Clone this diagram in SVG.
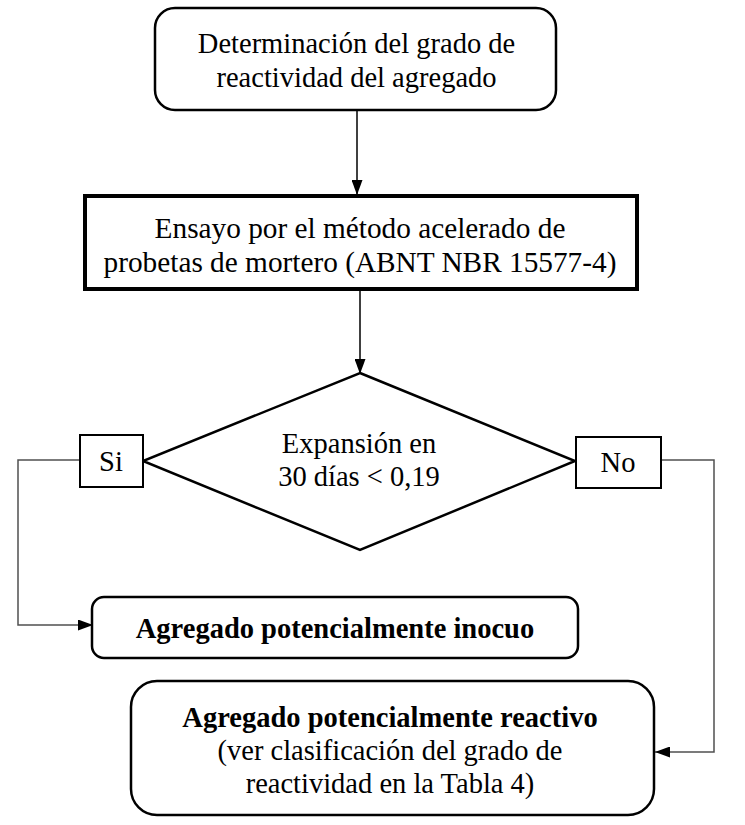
<svg xmlns="http://www.w3.org/2000/svg" width="745" height="825" viewBox="0 0 745 825">
<style>
text{font-family:'Liberation Serif','Times New Roman',serif;font-size:28.5px;fill:#000;text-anchor:middle}
.b{font-weight:bold}
.m{font-size:29.3px}
.box{fill:#fff;stroke:#000;stroke-width:2.5}
.thick{fill:#fff;stroke:#000;stroke-width:4}
.lbl{fill:#fff;stroke:#000;stroke-width:2}
.c{fill:none;stroke:#000;stroke-width:1.5}
.g{fill:none;stroke:#505050;stroke-width:1.5}
</style>
<defs>
<marker id="ah" markerWidth="15" markerHeight="11" refX="15" refY="5.5" orient="auto" markerUnits="userSpaceOnUse" viewBox="0 0 15 11">
<path d="M0,0 L15,5.5 L0,11 z" fill="#000"/>
</marker>
</defs>
<g id="connectors">
<line class="c" x1="357" y1="110" x2="357" y2="195" marker-end="url(#ah)"/>
<line class="c" x1="360" y1="290" x2="360" y2="374" marker-end="url(#ah)"/>
<polyline class="g" points="80,460 18,460 18,625 93,625" marker-end="url(#ah)"/>
<polyline class="g" points="661,460 714,460 714,752 655,752" marker-end="url(#ah)"/>
</g>
<g id="n1">
<rect class="box" x="155" y="8" width="401" height="102" rx="20"/>
<text x="356.5" y="53">Determinación del grado de</text>
<text x="356.5" y="87">reactividad del agregado</text>
</g>
<g id="n2">
<rect class="thick" x="85" y="196" width="552" height="93"/>
<text class="m" x="360" y="238">Ensayo por el método acelerado de</text>
<text class="m" x="360" y="272">probetas de mortero (ABNT NBR 15577-4)</text>
</g>
<g id="n3">
<polygon class="box" points="360,373 575,461 360,550 143,461"/>
<text x="359" y="453">Expansión en</text>
<text x="359" y="486">30 días &lt; 0,19</text>
</g>
<g id="si">
<rect class="lbl" x="80" y="435" width="63" height="52"/>
<text x="111" y="471">Si</text>
</g>
<g id="no">
<rect class="lbl" x="576" y="437" width="85" height="51"/>
<text x="618" y="472">No</text>
</g>
<g id="n4">
<rect class="box" x="92" y="597" width="486" height="61" rx="12"/>
<text class="b" x="335" y="638">Agregado potencialmente inocuo</text>
</g>
<g id="n5">
<rect class="box" x="131" y="681" width="523" height="134" rx="26"/>
<text class="b" x="390" y="727">Agregado potencialmente reactivo</text>
<text x="390" y="760">(ver clasificación del grado de</text>
<text x="390" y="793">reactividad en la Tabla 4)</text>
</g>
</svg>
